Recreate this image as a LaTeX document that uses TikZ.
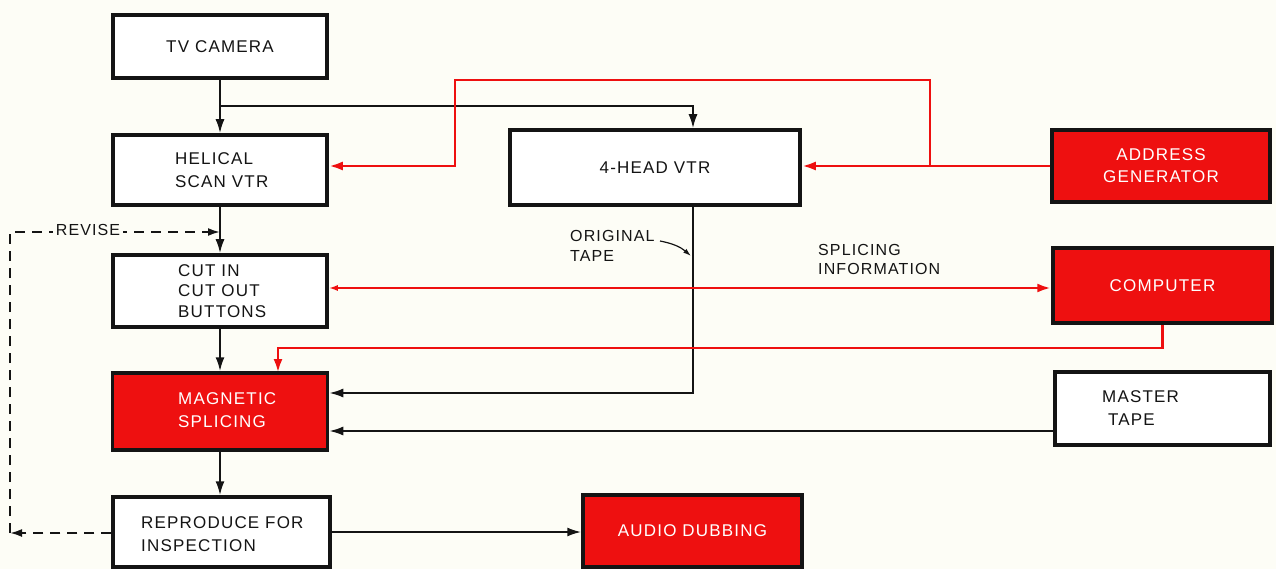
\documentclass[tikz,border=0pt]{standalone}
\usepackage{fontspec}
\setmainfont{Liberation Sans}[LetterSpace=7]
\usetikzlibrary{arrows.meta}
\definecolor{bg}{RGB}{253,253,246}
\definecolor{pred}{RGB}{238,16,16}
\definecolor{ink}{RGB}{20,20,20}
\tikzset{
  x=1pt,y=-1pt,
  blk/.style={draw=ink,line width=3.5pt,fill=white,inner sep=0pt,font=\fontsize{17}{22}\selectfont,text=ink,align=left},
  redblk/.style={blk,fill=pred,text=white},
  conn/.style={draw=ink,line width=2pt,-{Latex[length=14pt,width=9pt]}},
  rconn/.style={draw=pred,line width=2.8pt,-{Latex[length=14pt,width=9pt]}},
  dconn/.style={draw=ink,line width=2pt,dash pattern=on 10pt off 7pt,-{Latex[length=12pt,width=8pt]}},
  lbl/.style={font=\fontsize{16}{20}\selectfont,text=ink,align=left,inner sep=0pt}
}
\begin{document}
\begin{tikzpicture}
\fill[bg] (0,0) rectangle (1276,569);
\useasboundingbox (0,0) rectangle (1276,569);
% boxes
\node[blk,minimum width=214pt,minimum height=63pt] (tv) at (220,46.5) {TV CAMERA};
\node[blk,minimum width=214pt,minimum height=70pt] (hel) at (220,170) {};
\node[lbl,font=\fontsize{17}{23}\selectfont,anchor=west] (helt) at (175,170) {HELICAL\\SCAN VTR};
\node[blk,minimum width=214pt,minimum height=72pt] (cut) at (220,291) {};
\node[lbl,font=\fontsize{17}{20.5}\selectfont,anchor=west] (cutt) at (178,291) {CUT IN\\CUT OUT\\BUTTONS};
\node[redblk,minimum width=215pt,minimum height=77pt] (mag) at (220,411.5) {};
\node[lbl,font=\fontsize{17}{23}\selectfont,text=white,anchor=west] (magt) at (178,410) {MAGNETIC\\SPLICING};
\node[blk,minimum width=217pt,minimum height=70pt] (rep) at (221.5,532) {};
\node[lbl,font=\fontsize{17}{23}\selectfont,anchor=west] (rept) at (141,534) {REPRODUCE FOR\\INSPECTION};
\node[blk,minimum width=290pt,minimum height=75pt] (four) at (655,167.5) {4-HEAD VTR};
\node[redblk,minimum width=218pt,minimum height=72pt,align=center] (addr) at (1161,166) {ADDRESS\\GENERATOR};
\node[redblk,minimum width=219pt,minimum height=75pt] (comp) at (1162.5,285.5) {COMPUTER};
\node[blk,minimum width=215pt,minimum height=73pt] (mast) at (1162.5,408.5) {};
\node[lbl,font=\fontsize{17}{23}\selectfont,anchor=west] (mastt) at (1102,408) {MASTER\\\ TAPE};
\node[redblk,minimum width=219pt,minimum height=72pt] (aud) at (692.5,531) {AUDIO DUBBING};
% coordinates
\coordinate (sp) at (220,106);
\coordinate (rv) at (220,232);
\coordinate (fx) at (693,0);
% black connectors
\draw[conn] (tv.south) -- (hel.north);
\draw[conn] (sp) -| (four.north -| fx);
\draw[conn] (hel.south) -- (cut.north);
\draw[conn] (cut.south) -- (mag.north);
\draw[conn] (mag.south) -- (mag.south |- rep.north);
\draw[conn] (rep.east) -- (aud.west |- rep.east);
\draw[conn] (four.south -| fx) -- (fx |- 0,393) -- (mag.east |- 0,393);
\draw[conn] (mast.west |- 0,431) -- (mag.east |- 0,431);
% red connectors
\draw[rconn] (addr.west) -- (four.east |- addr.west);
\draw[rconn] (930,166) -- (930,80) -- (455,80) -- (455,166) -- (hel.east |- 0,166);
\draw[rconn,{Latex[length=9pt,width=6pt]}-{Latex[length=14pt,width=9pt]}] (cut.east |- 0,288) -- (comp.west |- 0,288);
\draw[rconn] (comp.south) |- (278,348) -- (278,373);
% revise loop
\draw[dconn] (rep.west |- 0,533) -- (10,533);
\draw[dconn] (10,533) -- (10,232) -- (rv);
\node[lbl,fill=bg,inner xsep=3pt] (revl) at (88,230) {REVISE};
% labels
\node[lbl,anchor=north west] (orig) at (570,230) {ORIGINAL\\TAPE};
\draw[draw=ink,line width=1.2pt,-{Latex[length=8pt,width=5pt]}] (660,241) to[bend left=15] (691,256);
\node[lbl,anchor=north west,font=\fontsize{16}{19}\selectfont] (spl) at (818,244) {SPLICING\\INFORMATION};
\end{tikzpicture}
\end{document}
